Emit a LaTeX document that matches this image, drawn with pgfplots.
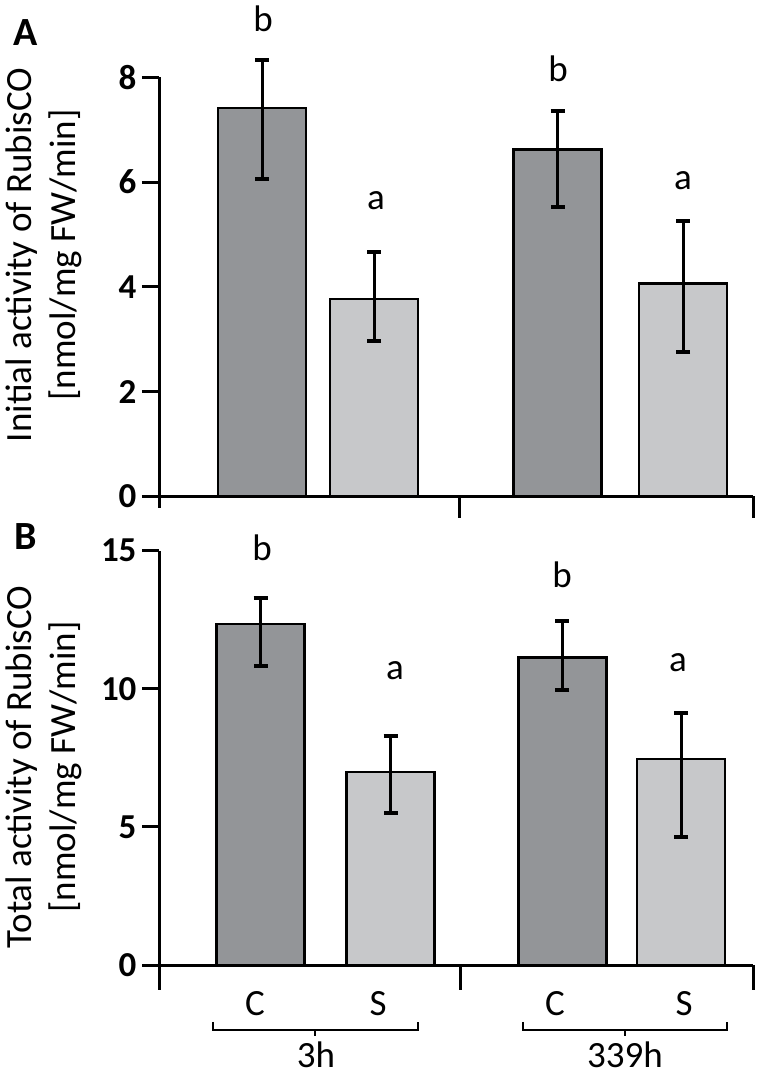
\documentclass[border=0pt]{standalone}
\usepackage{pgfplots}
\pgfplotsset{compat=1.18}
\usepackage{fontspec}
\setmainfont{Carlito}
\definecolor{cdark}{RGB}{147,149,152}
\definecolor{clight}{RGB}{199,200,202}
\newcommand{\lbl}{\fontsize{37bp}{44bp}\selectfont}
\newcommand{\tck}{\fontsize{35bp}{35bp}\selectfont\bfseries}
\begin{document}
\begin{tikzpicture}[x=1bp,y=1bp]
\path[use as bounding box] (0,0) rectangle (761,1076);
\pgfplotsset{
  panel/.style={
    scale only axis, width=594bp, anchor=south west,
    xmin=0, xmax=594,
    axis x line=none, axis y line*=left,
    y axis line style={line width=3bp},
    ytick style={line width=3bp, black},
    tick align=outside, major tick length=17bp,
    yticklabel style={font=\tck, xshift=-2bp},
    /pgf/number format/assume math mode=true,
    clip=false,
  },
  bars/.style={ybar, bar shift=0pt, bar width=88, fill=#1, draw=black, line width=2.5bp,
     error bars/.cd, y dir=both, y explicit,
     error bar style={line width=3bp, black},
     error mark options={rotate=90, mark size=7bp, line width=4bp, black}},
}
% ---------------- Panel A
\begin{axis}[panel, at={(159bp,568bp)}, height=430.7bp, ymin=-0.22, ymax=8, ytick={0,2,4,6,8}]
\addplot[bars=cdark] coordinates {
  (103,7.41) += (0,0.92) -= (0,1.35)
  (398.5,6.62) += (0,0.74) -= (0,1.10)
};
\addplot[bars=clight] coordinates {
  (215,3.77) += (0,0.89) -= (0,0.81)
  (524,4.06) += (0,1.20) -= (0,1.31)
};
\draw[line width=3bp] (axis cs:0,0) -- (axis cs:594,0);
\draw[line width=3bp] (axis cs:300,0) -- (axis cs:300,-0.41);
\draw[line width=3bp] (axis cs:594,0) -- (axis cs:594,-0.41);
\node[font=\lbl, anchor=base] at (axis cs:104,8.87) {b};
\node[font=\lbl, anchor=base] at (axis cs:217,5.47) {a};
\node[font=\lbl, anchor=base] at (axis cs:399,7.91) {b};
\node[font=\lbl, anchor=base] at (axis cs:524,5.86) {a};
\end{axis}
% ---------------- Panel B
\begin{axis}[panel, at={(159bp,86bp)}, height=439.3bp, ymin=-0.9, ymax=15, ytick={0,5,10,15}]
\addplot[bars=cdark] coordinates {
  (101.7,12.34) += (0,0.94) -= (0,1.53)
  (403.3,11.14) += (0,1.33) -= (0,1.18)
};
\addplot[bars=clight] coordinates {
  (231.5,6.99) += (0,1.30) -= (0,1.49)
  (522,7.46) += (0,1.66) -= (0,2.83)
};
\draw[line width=3bp] (axis cs:0,0) -- (axis cs:594,0);
\draw[line width=3bp] (axis cs:301,0) -- (axis cs:301,-0.9);
\draw[line width=3bp] (axis cs:594,0) -- (axis cs:594,-0.9);
\node[font=\lbl, anchor=base] at (axis cs:103,14.66) {b};
\node[font=\lbl, anchor=base] at (axis cs:236,10.32) {a};
\node[font=\lbl, anchor=base] at (axis cs:403,13.65) {b};
\node[font=\lbl, anchor=base] at (axis cs:519,10.61) {a};
\end{axis}
% ---------------- panel letters
\node[font=\fontsize{40bp}{40bp}\selectfont\bfseries] at (26,1043) {A};
\node[font=\fontsize{40bp}{40bp}\selectfont\bfseries] at (26,539) {B};
% ---------------- y labels
\node[font=\lbl, rotate=90, align=center] at (44,821) {Initial activity of RubisCO\\{}[nmol/mg FW/min]};
\node[font=\lbl, rotate=90, align=center] at (44,309) {Total activity of RubisCO\\{}[nmol/mg FW/min]};
% ---------------- category labels
\node[font=\lbl] at (255,72) {C};
\node[font=\lbl] at (378,72) {S};
\node[font=\lbl] at (555,72) {C};
\node[font=\lbl] at (684,72) {S};
\draw[line width=2bp] (213,54) -- (213,46) -- (418,46) -- (418,54);
\draw[line width=2bp] (315,46) -- (315,40);
\draw[line width=2bp] (523,54) -- (523,46) -- (727,46) -- (727,54);
\draw[line width=2bp] (625,46) -- (625,40);
\node[font=\lbl] at (316,21) {3h};
\node[font=\lbl] at (625,21) {339h};
\end{tikzpicture}
\end{document}
